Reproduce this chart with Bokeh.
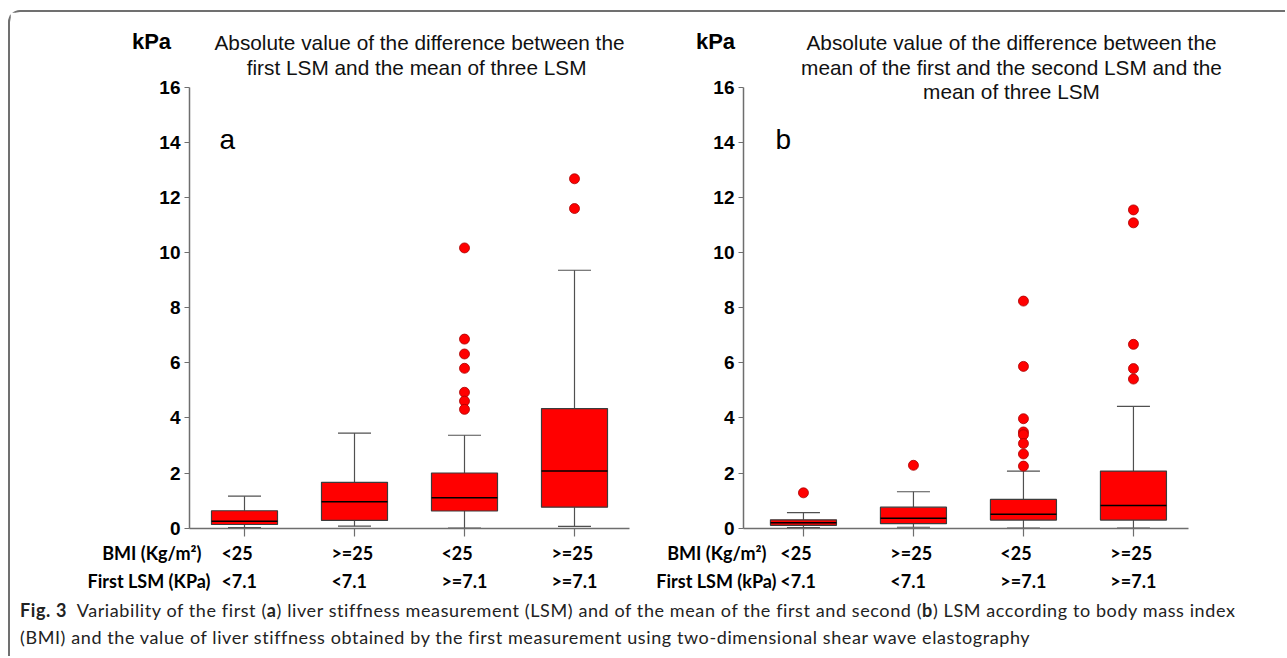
from bokeh.plotting import figure
from bokeh.layouts import column
from bokeh.models import Range1d, FixedTicker, Label, Div, LinearAxis
from bokeh.embed import file_html
from bokeh.resources import INLINE

# ---------------- data ----------------
categories = [1, 2, 3, 4]
bmi_labels = ["<25", ">=25", "<25", ">=25"]
lsm_labels = ["<7.1", "<7.1", ">=7.1", ">=7.1"]
y_ticks = [0, 2, 4, 6, 8, 10, 12, 14, 16]

# panel a : |first LSM - mean of three LSM|
a_low = [0.02, 0.07, 0.0, 0.06]
a_q1 = [0.13, 0.28, 0.62, 0.76]
a_med = [0.25, 0.96, 1.10, 2.07]
a_q3 = [0.63, 1.66, 2.00, 4.34]
a_high = [1.16, 3.45, 3.37, 9.36]
a_out_x = [3, 3, 3, 3, 3, 3, 3, 4, 4]
a_out_y = [10.17, 6.86, 6.32, 5.80, 4.93, 4.61, 4.31, 12.68, 11.60]

# panel b : |mean(first, second) - mean of three LSM|
b_low = [0.02, 0.03, 0.0, 0.0]
b_q1 = [0.10, 0.16, 0.29, 0.29]
b_med = [0.19, 0.36, 0.50, 0.82]
b_q3 = [0.30, 0.76, 1.04, 2.07]
b_high = [0.56, 1.32, 2.07, 4.42]
b_out_x = [1, 2, 3, 3, 3, 3, 3, 3, 3, 3, 4, 4, 4, 4, 4]
b_out_y = [1.28, 2.28, 8.24, 5.87, 3.97, 3.49, 3.39, 3.07, 2.69, 2.25,
           11.55, 11.08, 6.67, 5.79, 5.41]

# ---------------- style / layout (page pixels) ----------------
RED = "#FF0000"
AXIS = "#6e6e6e"
WHISK = "#505050"
BOX_W = 0.6
CAP_W = 0.3
FONT = "Liberation Sans"
LBL_FONT = "Lato"

FIG_LEFT = 10
FIG_TOP = 12
BORDER_L = 66
FRAME_LEFT = FIG_LEFT + BORDER_L
FRAME_RIGHT = 1279
FRAME_TOP = FIG_TOP
FRAME_BOTTOM = 592
PX_X = 110.0
A_AXIS_PAGE = 189      # page x of panel a's y axis
B_AXIS_PAGE = 743      # page x of panel b's y axis
A_START = 0.5
B_START = 0.455
Y16_PAGE = 86.8
PX_Y = 27.55
TITLE_Y = 42
TITLE_STEP = 24.5

x0 = A_START - (A_AXIS_PAGE - FRAME_LEFT) / PX_X
x1 = x0 + (FRAME_RIGHT - FRAME_LEFT) / PX_X
y1 = 16 + (Y16_PAGE - FRAME_TOP) / PX_Y
y0 = y1 - (FRAME_BOTTOM - FRAME_TOP) / PX_Y
B_SHIFT = (B_AXIS_PAGE - A_AXIS_PAGE) / PX_X + A_START - B_START

p = figure(frame_width=FRAME_RIGHT - FRAME_LEFT, frame_height=FRAME_BOTTOM - FRAME_TOP,
           x_range=Range1d(x0, x1), y_range=Range1d(y0, y1),
           x_axis_location="above", y_axis_location="left",
           min_border_left=BORDER_L, min_border_right=0,
           min_border_top=0, min_border_bottom=0,
           output_backend="svg", toolbar_location=None)
p.outline_line_color = None
p.grid.visible = False
p.background_fill_color = "white"
p.border_fill_color = "white"


def lab(px, py, text, **kw):
    # page pixel position -> screen units relative to the frame
    p.add_layout(Label(x=px - FRAME_LEFT, y=FRAME_BOTTOM - py,
                       x_units="screen", y_units="screen", text=text,
                       text_baseline="middle", **kw))


def style_y(ax, loc):
    ax.fixed_location = loc
    ax.bounds = (0, 16)
    ax.ticker = FixedTicker(ticks=y_ticks)
    ax.major_label_text_font = FONT
    ax.major_label_text_font_style = "bold"
    ax.major_label_text_font_size = "19px"
    ax.major_label_text_color = "black"
    ax.axis_line_color = AXIS
    ax.axis_line_width = 1.5
    ax.major_tick_line_color = AXIS
    ax.major_tick_line_width = 1.2
    ax.major_tick_out = 5
    ax.major_tick_in = 0
    ax.minor_tick_line_color = None
    ax.major_label_standoff = 4


def style_x(ax, xs, start, end):
    ax.fixed_location = 0
    ax.bounds = (start, end)
    ax.ticker = FixedTicker(ticks=xs)
    ax.major_label_overrides = {c: "" for c in xs}
    ax.major_label_text_font_size = "0px"
    ax.major_label_standoff = 0
    ax.axis_line_color = AXIS
    ax.axis_line_width = 1.5
    ax.major_tick_line_color = AXIS
    ax.major_tick_line_width = 1.2
    ax.major_tick_out = 0
    ax.major_tick_in = 8      # axis sits in the "above" panel: "in" points down
    ax.minor_tick_line_color = None


def draw_panel(shift, low, q1, med, q3, high, out_x, out_y,
               title_lines, title_cx, kpa_x, letter, letter_x, heads, head_x):
    xs = [c + shift for c in categories]
    p.segment(x0=xs, y0=q3, x1=xs, y1=high, line_color=WHISK, line_width=1.2)
    p.segment(x0=xs, y0=low, x1=xs, y1=q1, line_color=WHISK, line_width=1.2)
    cap_l = [c - CAP_W / 2 for c in xs]
    cap_r = [c + CAP_W / 2 for c in xs]
    p.segment(x0=cap_l, y0=high, x1=cap_r, y1=high, line_color=WHISK, line_width=1.2)
    p.segment(x0=cap_l, y0=low, x1=cap_r, y1=low, line_color=WHISK, line_width=1.2)
    p.vbar(x=xs, width=BOX_W, bottom=q1, top=q3, fill_color=RED,
           line_color="#3c3c3c", line_width=1.2)
    box_l = [c - BOX_W / 2 for c in xs]
    box_r = [c + BOX_W / 2 for c in xs]
    p.segment(x0=box_l, y0=med, x1=box_r, y1=med, line_color="black", line_width=1.5)
    p.scatter([v + shift for v in out_x], out_y, size=10, fill_color=RED,
              line_color="#A80000", line_width=0.8)

    lab(kpa_x, TITLE_Y - 1, "kPa", text_font=FONT, text_font_style="bold",
        text_font_size="22px", text_align="center", text_color="black")
    for i, t in enumerate(title_lines):
        lab(title_cx, TITLE_Y + TITLE_STEP * i, t, text_font=FONT,
            text_font_size="20.8px", text_align="center", text_color="#111111")
    lab(letter_x, 139, letter, text_font=FONT, text_font_size="28px",
        text_align="left", text_color="black")
    for t, hx, hy in zip(heads, head_x, (552, 580)):
        lab(hx, hy, t, text_font=LBL_FONT, text_font_style="bold",
            text_font_size="18px", text_align="right", text_color="black")
    for c, b, l in zip(xs, bmi_labels, lsm_labels):
        for t, hy in ((b, 552), (l, 580)):
            p.add_layout(Label(x=c - 0.21, y=FRAME_BOTTOM - hy, x_units="data",
                               y_units="screen", text=t, text_font=LBL_FONT,
                               text_font_style="bold", text_font_size="18px",
                               text_align="left", text_baseline="middle",
                               text_color="black"))
    return xs


xs_a = draw_panel(0.0, a_low, a_q1, a_med, a_q3, a_high, a_out_x, a_out_y,
                  ["Absolute value of the difference between the",
                   "first  LSM and the mean of three LSM"],
                  419, 151, "a", 219,
                  ["BMI (Kg/m\u00b2)", "First LSM (KPa)"], [201, 210])
xs_b = draw_panel(B_SHIFT, b_low, b_q1, b_med, b_q3, b_high, b_out_x, b_out_y,
                  ["Absolute value of the difference between the",
                   "mean of the first and the second LSM and the",
                   "mean of three LSM"],
                  1011, 715, "b", 775,
                  ["BMI (Kg/m\u00b2)", "First LSM (kPa)"], [766, 776])

# axes of panel a (the figure's own) and panel b (added)
style_y(p.yaxis[0], A_START)
style_x(p.xaxis[0], xs_a, A_START, 4.5)
yb = LinearAxis()
style_y(yb, B_START + B_SHIFT)
p.add_layout(yb, "left")
xb = LinearAxis()
style_x(xb, xs_b, B_START + B_SHIFT, 4.5 + B_SHIFT)
p.add_layout(xb, "above")

caption = Div(
    text=('<b>Fig. 3</b>&nbsp; Variability of the first (<b>a</b>) liver stiffness '
          'measurement (LSM) and of the mean of the first and second (<b>b</b>) LSM '
          'according to body mass index<br>(BMI) and the value of liver stiffness '
          'obtained by the first measurement using two-dimensional shear wave elastography'),
    width=1265, height=54,
    styles={"font-family": "Lato", "font-size": "18px", "line-height": "27px",
            "letter-spacing": "0.6px", "color": "#222222", "padding-left": "5px",
            "white-space": "nowrap"})

layout = column(p, caption,
                styles={"border-top": "2px solid #707070",
                        "border-left": "2px solid #707070",
                        "border-top-left-radius": "12px",
                        "margin-left": "8px", "margin-top": "10px",
                        "background-color": "white"})

open("out.html", "w").write(file_html(layout, INLINE))
